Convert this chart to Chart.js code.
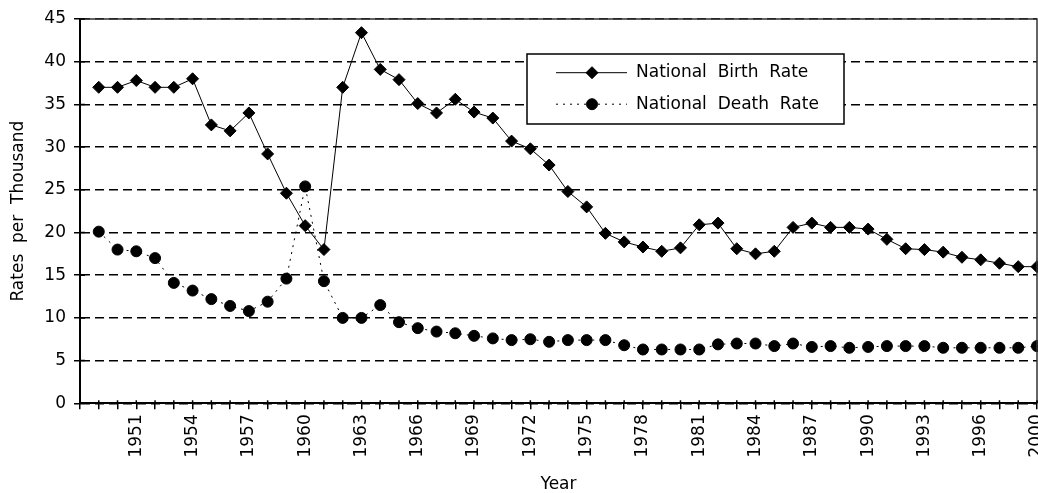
<!DOCTYPE html>
<html>
<head>
<meta charset="utf-8">
<script src="https://cdn.jsdelivr.net/npm/chart.js@4/dist/chart.umd.min.js"></script>
<style>
  html, body { margin: 0; padding: 0; background: #fff; overflow: hidden; }
  #wrap { width: 1038px; height: 493px; }
</style>
</head>
<body>
<div id="wrap"><canvas id="myChart"></canvas></div>
<script>
const years = [1949, 1950, 1951, 1952, 1953, 1954, 1955, 1956, 1957, 1958,
  1959, 1960, 1961, 1962, 1963, 1964, 1965, 1966, 1967, 1968,
  1969, 1970, 1971, 1972, 1973, 1974, 1975, 1976, 1977, 1978,
  1979, 1980, 1981, 1982, 1983, 1984, 1985, 1986, 1987, 1988,
  1989, 1990, 1991, 1992, 1993, 1994, 1995, 1996, 1997, 1998, 2000];

const birthRate = [37.0, 37.0, 37.8, 37.0, 37.0, 38.0, 32.6, 31.9, 34.0, 29.2,
  24.6, 20.8, 18.0, 37.0, 43.4, 39.1, 37.9, 35.1, 34.0, 35.6,
  34.1, 33.4, 30.7, 29.8, 27.9, 24.8, 23.0, 19.9, 18.9, 18.3,
  17.8, 18.2, 20.9, 21.1, 18.1, 17.5, 17.8, 20.6, 21.1, 20.6,
  20.6, 20.4, 19.2, 18.1, 18.0, 17.7, 17.1, 16.8, 16.4, 16.0, 16.0];

const deathRate = [20.1, 18.0, 17.8, 17.0, 14.1, 13.2, 12.2, 11.4, 10.8, 11.9,
  14.6, 25.4, 14.3, 10.0, 10.0, 11.5, 9.5, 8.8, 8.4, 8.2,
  7.9, 7.6, 7.4, 7.5, 7.2, 7.4, 7.4, 7.4, 6.8, 6.3,
  6.3, 6.3, 6.3, 6.9, 7.0, 7.0, 6.7, 7.0, 6.6, 6.7,
  6.5, 6.6, 6.7, 6.7, 6.7, 6.5, 6.5, 6.5, 6.5, 6.5, 6.7];

// only every third category gets a label
const labelYears = [1951, 1954, 1957, 1960, 1963, 1966, 1969, 1972, 1975,
  1978, 1981, 1984, 1987, 1990, 1993, 1996, 2000];

Chart.defaults.font.family = '"DejaVu Sans", sans-serif';
Chart.defaults.font.size = 17;
Chart.defaults.color = '#000';

let toPoints = (arr) => arr.map((v, i) => ({ x: i, y: v }));

// box around plot, small inner ticks and the boxed legend
const excelLook = {
  id: 'excelLook',
  afterDatasetsDraw(chart) {
    const ctx = chart.ctx;
    const area = chart.chartArea;
    const xs = chart.scales.x, ys = chart.scales.y;
    ctx.save();
    ctx.strokeStyle = '#333';
    ctx.lineWidth = 1.5;
    ctx.beginPath();
    ctx.moveTo(area.left, area.top);
    ctx.lineTo(area.right, area.top);
    ctx.lineTo(area.right, area.bottom);
    ctx.stroke();

    ctx.strokeStyle = '#000';
    ctx.beginPath();
    xs.ticks.forEach(t => {
      const px = xs.getPixelForValue(t.value);
      ctx.moveTo(px, area.bottom - 3);
      ctx.lineTo(px, area.bottom);
    });
    ys.ticks.forEach(t => {
      const py = ys.getPixelForValue(t.value);
      ctx.moveTo(area.left, py);
      ctx.lineTo(area.left + 5, py);
    });
    ctx.stroke();

    // legend
    const lx = 527, ly = 54, lw = 317, lh = 70;
    ctx.fillStyle = '#fff';
    ctx.fillRect(lx, ly, lw, lh);
    ctx.lineWidth = 1.5;
    ctx.strokeRect(lx, ly, lw, lh);
    ctx.font = '17px "DejaVu Sans", sans-serif';
    ctx.textBaseline = 'middle';
    chart.data.datasets.forEach((ds, i) => {
      const y = ly + 18.7 + i * 31.5;
      ctx.strokeStyle = '#000';
      ctx.fillStyle = '#000';
      ctx.lineWidth = ds.borderWidth;
      ctx.setLineDash(ds.borderDash || []);
      ctx.beginPath();
      ctx.moveTo(556, y);
      ctx.lineTo(627, y);
      ctx.stroke();
      ctx.setLineDash([]);
      Chart.helpers.drawPoint(ctx, {
        pointStyle: ds.pointStyle, radius: ds.pointRadius, rotation: 0, borderWidth: 1
      }, 592, y);
      ctx.fillText(ds.label, 636, y);
    });
    ctx.restore();
  }
};

const data = {
  datasets: [{
    label: 'National  Birth  Rate',
    data: toPoints(birthRate),
    borderColor: '#000',
    backgroundColor: '#000',
    borderWidth: 1,
    pointStyle: 'rectRot',
    pointRadius: 6,
    pointBorderWidth: 1,
    clip: false,
  }, {
    label: 'National  Death  Rate',
    data: toPoints(deathRate),
    borderColor: '#000',
    backgroundColor: '#000',
    borderWidth: 1,
    borderDash: [2, 5],
    pointStyle: 'circle',
    pointRadius: 5.5,
    pointBorderWidth: 1,
    clip: false,
  }]
};

const config = {
  type: 'line',
  data: data,
  options: {
    responsive: true,
    maintainAspectRatio: false,
    animation: false,
    layout: { autoPadding: false, padding: { top: 19, right: 1, left: 0, bottom: 0 } },
    plugins: {
      legend: { display: false },
      tooltip: { enabled: false }
    },
    scales: {
      x: {
        type: 'linear',
        min: -1,
        max: years.length - 1,
        afterFit: (s) => {
          s.height = 89.7;
          s.paddingLeft = 0;
          s.paddingRight = 0;
        },
        border: { color: '#000', width: 2 },
        grid: { drawOnChartArea: false, drawTicks: true, tickLength: 6, color: '#000', lineWidth: 1.5 },
        ticks: {
          stepSize: 1,
          autoSkip: false,
          minRotation: 90,
          maxRotation: 90,
          padding: 5,
          callback: (v) => (v >= 0 && labelYears.includes(years[v]) ? String(years[v]) : '')
        },
        title: {
          display: true,
          text: 'Year',
          font: { size: 17, lineHeight: 1 },
          padding: { top: 0, bottom: 0 }
        }
      },
      y: {
        min: 0,
        max: 45,
        afterFit: (s) => { s.width = 80; },
        // in v4 border.dash styles the grid lines, the axis line stays solid
        border: { color: '#000', width: 2, dash: [9, 5] },
        grid: {
          color: '#000',
          lineWidth: 1.5,
          tickLength: 6,
          tickBorderDash: [],
          tickColor: '#000'
        },
        ticks: { stepSize: 5, padding: 8 },
        title: {
          display: true,
          text: 'Rates  per  Thousand',
          font: { size: 17 },
          padding: { top: 8, bottom: 0 }
        }
      }
    }
  },
  plugins: [excelLook]
};

new Chart(
  document.getElementById('myChart'),
  config
);
</script>
</body>
</html>
